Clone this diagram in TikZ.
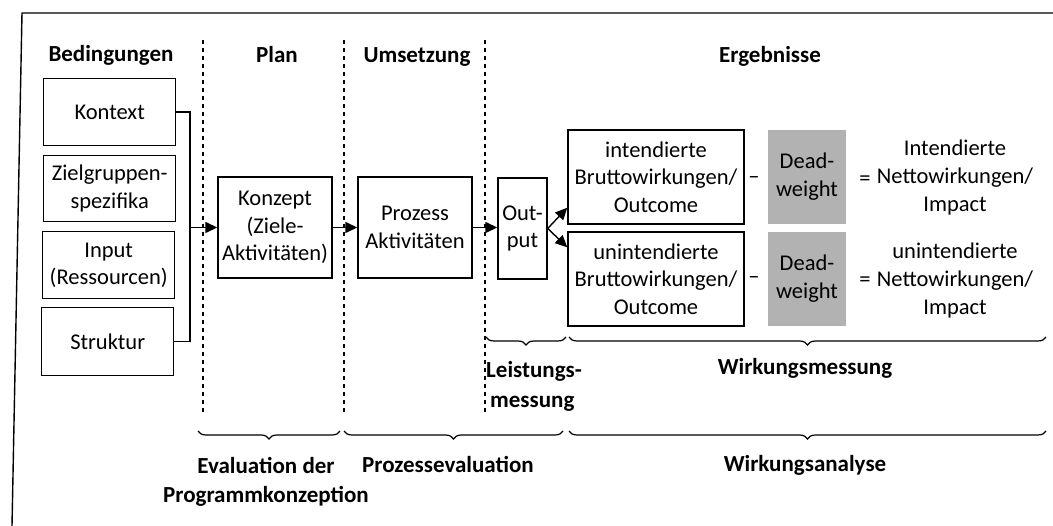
\documentclass[tikz,border=0pt]{standalone}
\usepackage{fontspec}
\setmainfont{Carlito}
\usetikzlibrary{arrows.meta,decorations.pathreplacing,calc}
\begin{document}
\begin{tikzpicture}[x=1pt,y=-1pt,
  box/.style={draw,line width=1.4pt,align=center,inner sep=0pt,font=\fontsize{22.5}{27.5}\selectfont},
  dwbox/.style={fill=black!30,align=center,inner sep=0pt,font=\fontsize{22.5}{28}\selectfont},
  txt/.style={align=center,inner sep=0pt,font=\fontsize{22.5}{28}\selectfont},
  hd/.style={align=center,inner sep=0pt,font=\bfseries\fontsize{23}{29}\selectfont},
  ln/.style={line width=1.4pt},
  arr/.style={line width=1.4pt,-{Triangle[length=12pt,width=11pt]}},
  dashline/.style={line width=1.3pt,dash pattern=on 4.5pt off 3.5pt},
  brc/.style={line width=1.2pt,decorate,decoration={brace,mirror,amplitude=8pt,aspect=0.5}}]
\useasboundingbox (0,0) rectangle (1053,526);
% frame
\draw[ln] (12,526) -- (22,13) -- (1053,13);
% headings
\node[hd,anchor=base] (hbed) at (111,62) {Bedingungen};
\node[hd,anchor=base] (hplan) at (277,63) {Plan};
\node[hd,anchor=base] (humset) at (417,63) {Umsetzung};
\node[hd,anchor=base] (herg) at (770,63) {Ergebnisse};
% dashed separators
\draw[dashline] (203,40) -- (203,413);
\draw[dashline] (344,40) -- (344,413);
\draw[dashline] (485,40) -- (485,413);
% left boxes
\node[box,anchor=north west,minimum width=132pt,minimum height=67pt] (kontext) at (43,78) {Kontext};
\node[box,anchor=north west,minimum width=132pt,minimum height=66pt] (ziel) at (43,155) {Zielgruppen-\\spezifika};
\node[box,anchor=north west,minimum width=132pt,minimum height=67pt] (input) at (42,231) {Input\\(Ressourcen)};
\node[box,anchor=north west,minimum width=132pt,minimum height=68pt] (struktur) at (41,307) {Struktur};
\coordinate (bus) at (190,0);
\draw[ln] (kontext.east) -- (kontext.east -| bus) -- (struktur.east -| bus) -- (struktur.east);
% middle boxes
\node[box,minimum width=114pt,minimum height=101pt] (konzept) at (275,227.5) {Konzept\\(Ziele-\\Aktivitäten)};
\node[box,minimum width=114pt,minimum height=101pt] (prozess) at (415,227.5) {Prozess\\Aktivitäten};
\node[box,minimum width=49pt,minimum height=101pt] (output) at (522.5,228.5) {Out-\\put};
\draw[arr] (bus |- konzept.west) -- (konzept.west);
\draw[arr] (konzept.east) -- (prozess.west);
\draw[arr] (prozess.east) -- (output.west |- prozess.east);
% result boxes
\node[box,minimum width=176pt,minimum height=94pt] (ib) at (656,177) {intendierte\\Bruttowirkungen/\\Outcome};
\node[box,minimum width=176pt,minimum height=94pt] (ub) at (656,279) {unintendierte\\Bruttowirkungen/\\Outcome};
\draw[arr] (output.east) -- ([yshift=17pt]ib.south west);
\draw[arr] (output.east) -- ([yshift=-16pt]ub.north west);
\node[txt] (m1) at (754,180) {–};
\node[txt] (m2) at (754,280) {–};
\node[dwbox,minimum width=78pt,minimum height=94pt] (dw1) at (807,177) {Dead-\\weight};
\node[dwbox,minimum width=78pt,minimum height=94pt] (dw2) at (807,279) {Dead-\\weight};
\node[txt] (e1) at (865,181) {=};
\node[txt] (e2) at (865,282) {=};
\node[txt] (n1) at (955,178) {Intendierte\\Nettowirkungen/\\Impact};
\node[txt] (n2) at (955,281) {unintendierte\\Nettowirkungen/\\Impact};
% middle braces
\draw[brc] (486,337) -- (566,337);
\draw[brc] (569,337) -- (1046,337);
\node[hd,anchor=west,align=left,font=\bfseries\fontsize{23}{30}\selectfont] (leist) at (486,386) {Leistungs-\\\hspace*{4pt}messung};
\node[hd,anchor=base] (wmess) at (805,375) {Wirkungsmessung};
% bottom braces
\draw[brc] (198,431) -- (340,431);
\draw[brc] (344,431) -- (563,431);
\draw[brc] (569,431) -- (1046,431);
\node[hd] (evpk) at (266,482) {Evaluation der\\Programmkonzeption};
\node[hd,anchor=base] (pev) at (448,473) {Prozessevaluation};
\node[hd,anchor=base] (wan) at (805,472) {Wirkungsanalyse};
\end{tikzpicture}
\end{document}
